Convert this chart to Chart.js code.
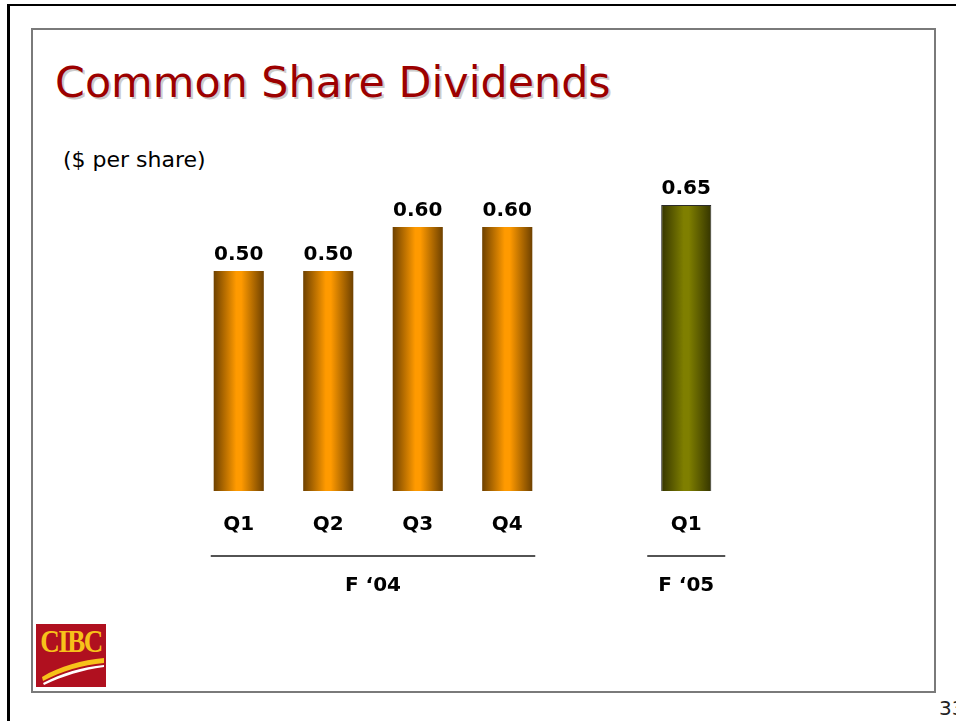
<!DOCTYPE html>
<html>
<head>
<meta charset="utf-8">
<script src="https://cdn.jsdelivr.net/npm/chart.js@4.4.1/dist/chart.umd.min.js"></script>
<style>
  html, body { margin: 0; padding: 0; background: #fff; }
  body { width: 956px; height: 721px; position: relative; overflow: hidden; font-family: 'DejaVu Sans', Verdana, sans-serif; }
  .frame { position: absolute; left: 7px; top: 4px; width: 1000px; height: 800px; border-top: 2px solid #000; border-left: 3px solid #000; }
  .slide { position: absolute; left: 31px; top: 28px; width: 901px; height: 661px; border: 2px solid #7a7a7a; }
  .title { position: absolute; left: 55px; top: 61px; font-size: 42.8px; line-height: 42px; color: #9c0000; text-shadow: 2px 2px 0 #cccccc; white-space: nowrap; }
  .unit { position: absolute; left: 63px; top: 149px; font-size: 22px; line-height: 22px; color: #000; white-space: nowrap; }
  .page { position: absolute; left: 939px; top: 698px; font-size: 20px; line-height: 20px; color: #222; }
  .logo { position: absolute; left: 36px; top: 624px; width: 70px; height: 63px; background: #b0101f; overflow: hidden; }
  .logo span { position: absolute; left: 0; top: 5px; width: 70px; text-align: center; font-family: 'Liberation Serif', serif; font-weight: bold; font-size: 27px; line-height: 27px; color: #f7c21a; letter-spacing: -1.5px; transform: scaleY(1.15); }
  .logo svg { position: absolute; left: 0; top: 0; }
  #wrap { position: absolute; left: 0; top: 0; width: 956px; height: 721px; }
</style>
</head>
<body>
<div class="frame"></div>
<div class="slide"></div>
<div class="title">Common Share Dividends</div>
<div class="unit">($ per share)</div>
<div class="logo">
  <span>CIBC</span>
  <svg width="70" height="63" viewBox="0 0 70 63">
    <path d="M6 53 C 24 42, 46 36, 68 34 L 68 39 C 46 41, 26 47, 7 57 Z" fill="#f7c21a"/>
    <path d="M7 59 C 26 49, 46 43, 68 41 L 68 43 C 46 46, 27 52, 8 61 Z" fill="#fff"/>
  </svg>
</div>
<div class="page">33</div>
<div id="wrap"><canvas id="chart" width="956" height="721"></canvas></div>
<script>
const categories = ['Q1', 'Q2', 'Q3', 'Q4', '', 'Q1'];
const dividends = [0.50, 0.50, 0.60, 0.60, null, 0.65];
const fiscalYears = ['F \u201804', 'F \u201805'];
const yearFirstBar = [0, 5];
const yearLastBar = [3, 5];

// bar look, by category index
const barTheme = ['orange', 'orange', 'orange', 'orange', null, 'olive'];
const themes = {
  orange: { edge: '#6e4100', mid: '#ff9a00' },
  olive: { edge: '#353500', mid: '#7f7f00' },
};
const BAR_FRACTION = 0.56;

function barFill(ctx) {
  const chart = ctx.chart;
  const xs = chart.scales.x;
  const theme = themes[barTheme[ctx.dataIndex]] || themes.orange;
  if (!xs || !chart.chartArea) return theme.mid;
  const cx = xs.getPixelForValue(ctx.dataIndex);
  const half = (xs.width / categories.length) * BAR_FRACTION / 2;
  const g = chart.ctx.createLinearGradient(cx - half, 0, cx + half, 0);
  g.addColorStop(0, theme.edge);
  g.addColorStop(0.45, theme.mid);
  g.addColorStop(0.55, theme.mid);
  g.addColorStop(1, theme.edge);
  return g;
}

const valueLabels = {
  id: 'valueLabels',
  afterDatasetsDraw(chart) {
    const c = chart.ctx;
    const meta = chart.getDatasetMeta(0);
    c.save();
    c.font = 'bold 20px "DejaVu Sans"';
    c.fillStyle = '#000';
    c.textAlign = 'center';
    c.textBaseline = 'alphabetic';
    meta.data.forEach((bar, i) => {
      if (dividends[i] == null) return;
      c.fillText(dividends[i].toFixed(2), bar.x, bar.y - 11);
    });
    c.restore();
  },
};

const yearGroups = {
  id: 'yearGroups',
  afterDraw(chart) {
    const c = chart.ctx;
    const xs = chart.scales.x;
    const base = chart.chartArea.bottom;
    const overhang = [28, 39];
    c.save();
    c.strokeStyle = '#1a1a1a';
    c.lineWidth = 1.5;
    c.font = 'bold 20px "DejaVu Sans"';
    c.fillStyle = '#000';
    c.textAlign = 'center';
    c.textBaseline = 'middle';
    fiscalYears.forEach((label, g) => {
      const x0 = xs.getPixelForValue(yearFirstBar[g]) - overhang[g];
      const x1 = xs.getPixelForValue(yearLastBar[g]) + overhang[g];
      c.beginPath();
      c.moveTo(x0, base + 65);
      c.lineTo(x1, base + 65);
      c.stroke();
      c.fillText(label, (x0 + x1) / 2, base + 95);
    });
    c.restore();
  },
};

new Chart(document.getElementById('chart'), {
  type: 'bar',
  data: {
    labels: categories,
    datasets: [
      {
        data: dividends,
        backgroundColor: barFill,
        borderColor: (ctx) => (barTheme[ctx.dataIndex] === 'olive' ? '#2b2b2b' : 'rgba(0,0,0,0)'),
        borderWidth: (ctx) => (barTheme[ctx.dataIndex] === 'olive' ? 1 : 0),
        barPercentage: BAR_FRACTION,
        categoryPercentage: 1,
      },
    ],
  },
  options: {
    responsive: false,
    animation: false,
    devicePixelRatio: 1,
    layout: { padding: { left: 194, right: 225, top: 161, bottom: 162 } },
    plugins: { legend: { display: false }, tooltip: { enabled: false } },
    scales: {
      x: {
        grid: { display: false, drawTicks: false },
        border: { display: false },
        ticks: { color: '#000', padding: 22, font: { family: 'DejaVu Sans', size: 20, weight: 'bold' } },
      },
      y: { display: false, min: 0, max: 0.75 },
    },
  },
  plugins: [valueLabels, yearGroups],
});
</script>
</body>
</html>
